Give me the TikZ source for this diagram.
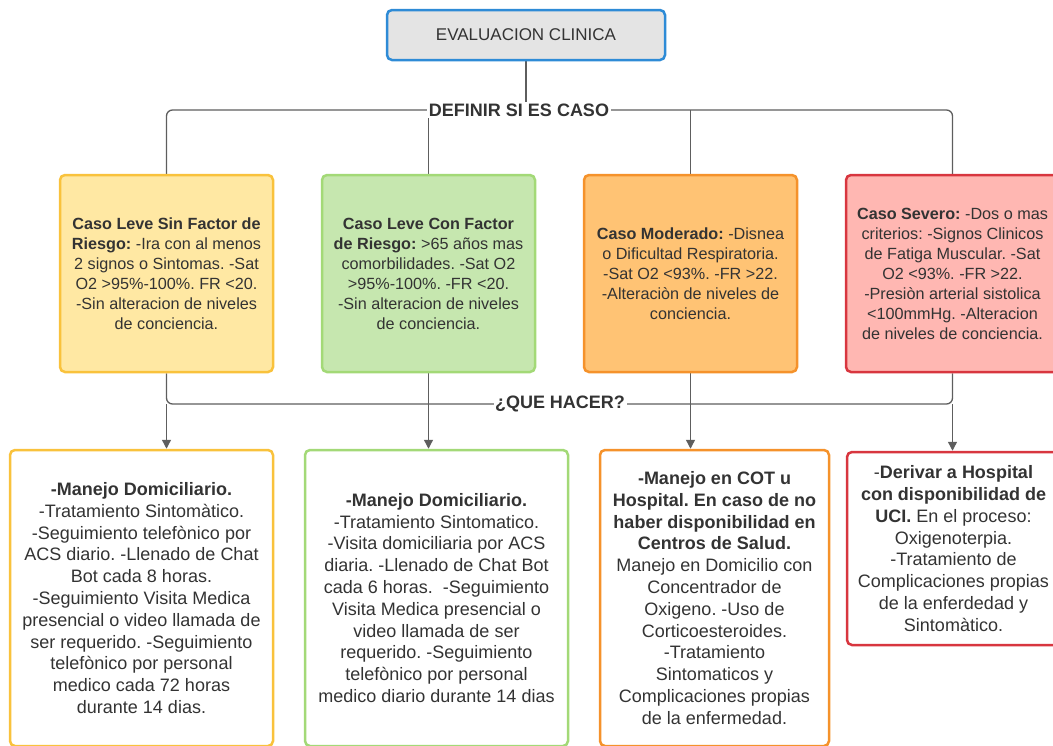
\documentclass[tikz,border=0pt]{standalone}
\usepackage{fontspec}
\setmainfont{Liberation Sans}
\usetikzlibrary{arrows.meta}
\frenchspacing
\definecolor{txt}{HTML}{333333}
\definecolor{lin}{HTML}{5E5E5E}
\definecolor{topf}{HTML}{E4E4E4}
\definecolor{topb}{HTML}{2E8BD6}
\definecolor{yf}{HTML}{FFE8A3}
\definecolor{yb}{HTML}{F9C23C}
\definecolor{gf}{HTML}{C6E7AF}
\definecolor{gb}{HTML}{A3D977}
\definecolor{of}{HTML}{FFC374}
\definecolor{ob}{HTML}{F5922B}
\definecolor{rf}{HTML}{FFB7B2}
\definecolor{rb}{HTML}{D8363F}
\pgfdeclarelayer{bg}
\pgfsetlayers{bg,main}
\tikzset{
  box/.style={draw, rounded corners=5pt, line width=2.5pt, align=center, inner sep=0pt, text=txt},
  caso/.style={box, minimum width=213pt, minimum height=197pt, font=\fontsize{16.2}{20}\selectfont},
  hacer/.style={box, fill=white, minimum height=296pt, font=\fontsize{18}{21.8}\selectfont},
  lbl/.style={fill=white, inner sep=1.5pt, text=txt, font=\fontsize{18}{20}\selectfont\bfseries},
  conn/.style={draw=lin, line width=1.3pt},
  arr/.style={conn, -{Triangle[width=9pt,length=9pt]}}
}
\begin{document}
\begin{tikzpicture}[x=1pt,y=-1pt]
\useasboundingbox (0,0) rectangle (1053,745);
\clip (0,0) rectangle (1053,745);

\node[box, fill=topf, draw=topb, minimum width=278pt, minimum height=50pt,
      font=\fontsize{17}{20}\selectfont] (top) at (526,35) {EVALUACION CLINICA};

\node[lbl] (def) at (519,110) {DEFINIR SI ES CASO};
\node[lbl] (que) at (560,404) {¿QUE HACER?};

\node[caso, fill=yf, draw=yb] (c1) at (166.5,273.5) {\textbf{Caso Leve Sin Factor de}\\ \textbf{Riesgo:} -Ira con al menos\\ 2 signos o Sintomas. -Sat\\ O2 >95\%-100\%. FR <20.\\ -Sin alteracion de niveles\\ de conciencia.};
\node[caso, fill=gf, draw=gb] (c2) at (428.5,273.5) {\textbf{Caso Leve Con Factor}\\ \textbf{de Riesgo:} >65 años mas\\ comorbilidades. -Sat O2\\ >95\%-100\%. -FR <20.\\ -Sin alteracion de niveles\\ de conciencia.};
\node[caso, fill=of, draw=ob] (c3) at (690.5,273.5) {\textbf{Caso Moderado:} -Disnea\\ o Dificultad Respiratoria.\\ -Sat O2 <93\%. -FR >22.\\ -Alteraciòn de niveles de\\ conciencia.};
\node[caso, fill=rf, draw=rb] (c4) at (952.5,273.5) {\textbf{Caso Severo:} -Dos o mas\\ criterios: -Signos Clinicos\\ de Fatiga Muscular. -Sat\\ O2 <93\%. -FR >22.\\ -Presiòn arterial sistolica\\ <100mmHg. -Alteracion\\ de niveles de conciencia.};

\node[hacer, draw=yb, minimum width=263pt] (r1) at (141.5,598) {\textbf{-Manejo Domiciliario.}\\ -Tratamiento Sintomàtico.\\ -Seguimiento telefònico por\\ ACS diario. -Llenado de Chat\\ Bot cada 8 horas.\\ -Seguimiento Visita Medica\\ presencial o video llamada de\\ ser requerido. -Seguimiento\\ telefònico por personal\\ medico cada 72 horas\\ durante 14 dias.};
\node[hacer, draw=gb, minimum width=263pt] (r2) at (436.5,598) {\textbf{-Manejo Domiciliario.}\\ -Tratamiento Sintomatico.\\ -Visita domiciliaria por ACS\\ diaria. -Llenado de Chat Bot\\ cada 6 horas.\ \ -Seguimiento\\ Visita Medica presencial o\\ video llamada de ser\\ requerido. -Seguimiento\\ telefònico por personal\\ medico diario durante 14 dias};
\node[hacer, draw=ob, minimum width=229pt] (r3) at (714.5,598) {\textbf{-Manejo en COT u}\\ \textbf{Hospital. En caso de no}\\ \textbf{haber disponibilidad en}\\ \textbf{Centros de Salud.}\\ Manejo en Domicilio con\\ Concentrador de\\ Oxigeno. -Uso de\\ Corticoesteroides.\\ -Tratamiento\\ Sintomaticos y\\ Complicaciones propias\\ de la enfermedad.};
\node[box, fill=white, draw=rb, minimum width=213pt, minimum height=193pt,
      font=\fontsize{18}{21.8}\selectfont] (r4) at (953.5,548.5) {-\textbf{Derivar a Hospital}\\ \textbf{con disponibilidad de}\\ \textbf{UCI.} En el proceso:\\ Oxigenoterpia.\\ -Tratamiento de\\ Complicaciones propias\\ de la enferdedad y\\ Sintomàtico.};

\begin{pgfonlayer}{bg}
\draw[conn] (top.south) -- (top.south |- def.center);
\draw[conn, rounded corners=6pt] (def.center) -| (c1.north);
\draw[conn, rounded corners=6pt] (def.center) -| (c4.north);
\draw[conn] (def.center -| c2.north) -- (c2.north);
\draw[conn] (def.center -| c3.north) -- (c3.north);

\draw[conn, rounded corners=6pt] (c1.south) |- (que.center);
\draw[conn, rounded corners=6pt] (c4.south) |- (que.center);
\draw[conn] (c2.south) -- (c2.south |- que.center);
\draw[conn] (c3.south) -- (c3.south |- que.center);

\draw[arr] (c1.south |- que.center) -- (c1.south |- r1.north);
\draw[arr] (c2.south |- que.center) -- (c2.south |- r2.north);
\draw[arr] (c3.south |- que.center) -- (c3.south |- r3.north);
\draw[arr] (c4.south |- que.center) -- (c4.south |- r4.north);
\end{pgfonlayer}
\end{tikzpicture}
\end{document}
